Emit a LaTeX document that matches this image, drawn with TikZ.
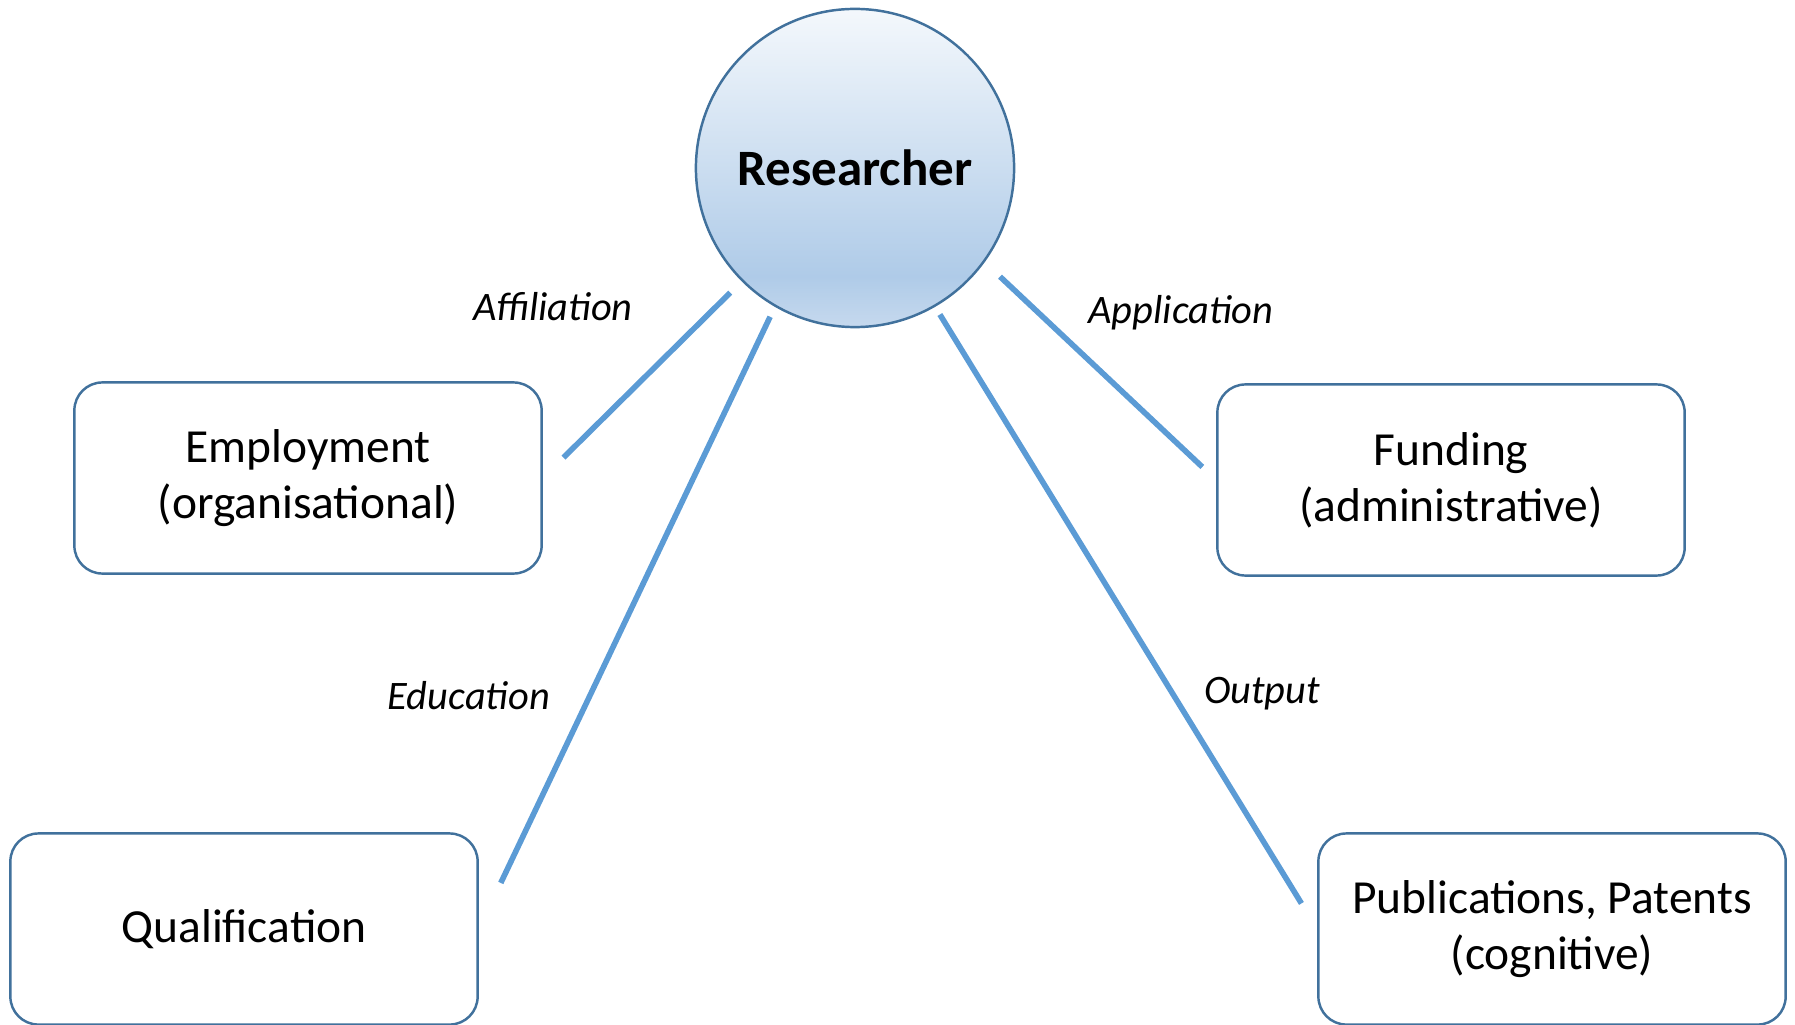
\documentclass[tikz,border=0pt]{standalone}
\usepackage{fontspec}
\setmainfont{Carlito}
\usepackage{xcolor}
\definecolor{cEdge}{HTML}{41719C}
\definecolor{cLink}{HTML}{5B9BD5}
\definecolor{cTop}{HTML}{F4F8FC}
\definecolor{cMid}{HTML}{AFCBE8}
\definecolor{cBot}{HTML}{C6D9EE}
\usepackage{tikz}
\usetikzlibrary{positioning}
\pgfdeclareverticalshading{resShade}{100bp}{color(0bp)=(cBot); color(25bp)=(cBot);
  color(33bp)=(cMid); color(75bp)=(cTop); color(100bp)=(cTop)}

\begin{document}
\begin{tikzpicture}[
    x=0.01cm, y=-0.01cm,
    hub/.style={circle, draw=cEdge, line width=0.7pt, shading=resShade,
                minimum size=3.18cm, inner sep=0pt,
                font=\fontsize{14.5}{17}\selectfont\bfseries},
    box/.style={draw=cEdge, line width=0.7pt, rounded corners=0.28cm, fill=white,
                align=center, minimum width=4.67cm, minimum height=1.91cm,
                inner sep=3pt, font=\fontsize{13.5}{16}\selectfont},
    lbl/.style={font=\fontsize{11.5}{14}\selectfont\itshape, inner sep=1pt},
    link/.style={draw=cLink, line width=1.6pt}
]
\useasboundingbox (0,0) rectangle (1795,1025);

\node[hub] (res) at (855,168) {Researcher};
\node[box] (emp) at (308,478) {Employment\\(organisational)};
\node[box] (fund) at (1451,480) {Funding\\(administrative)};
\node[box] (qual) at (244,929) {Qualification};
\node[box] (pub) at (1552,929) {Publications, Patents\\(cognitive)};

\node[lbl] (affil) at (553,307) {Affiliation};
\node[lbl] (appl) at (1181,313) {Application};
\node[lbl] (edu) at (469,696) {Education};
\node[lbl] (outp) at (1262,694) {Output};

\draw[link, shorten <=0.16cm, shorten >=0.29cm] (res.225) -- (emp.east);
\draw[link, shorten <=0.11cm, shorten >=0.51cm] (res.240) -- (qual.east);
\draw[link, shorten <=0.09cm, shorten >=0.30cm] (res.300) -- (pub.west);
\draw[link, shorten <=0.21cm, shorten >=0.19cm] (res.324) -- (fund.west);
\end{tikzpicture}
\end{document}
